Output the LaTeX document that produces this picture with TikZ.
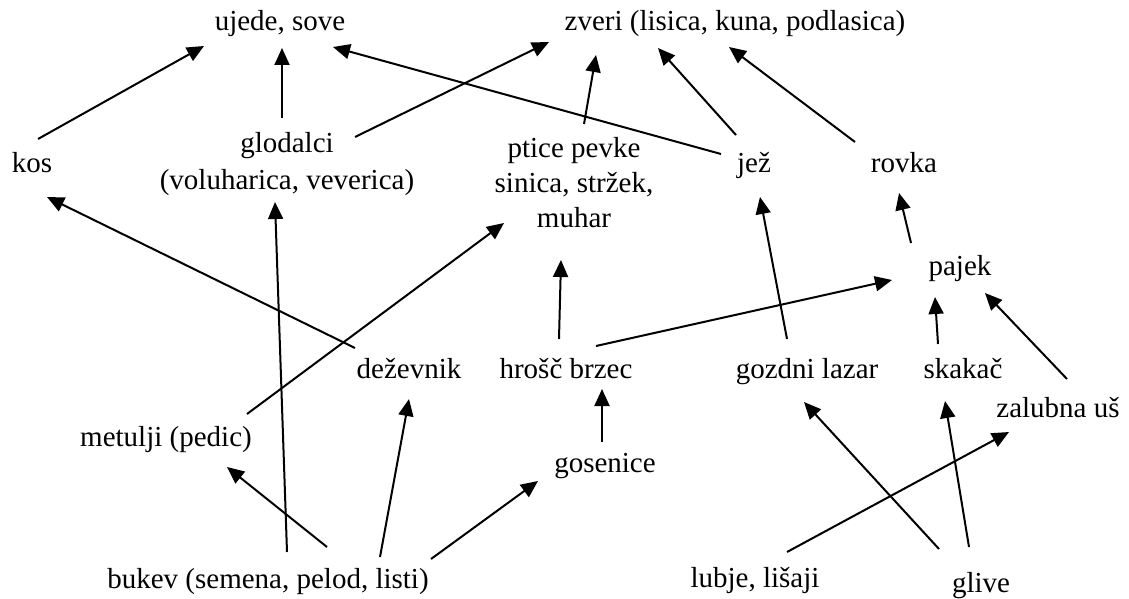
\documentclass[tikz,border=0pt]{standalone}
\usepackage{fontspec}
\setmainfont{Liberation Serif}
\usetikzlibrary{arrows.meta,calc}
\begin{document}
\begin{tikzpicture}[x=0.5pt,y=-0.5pt,
  lbl/.style={inner sep=0pt, font=\fontsize{14.5}{18}\selectfont},
  arr/.style={-{Triangle[length=8.5pt,width=7.5pt]}, line width=1pt}]
\useasboundingbox (0,0) rectangle (1129,599);
% nodes
\node[lbl,anchor=base] (ujede) at (280,31) {ujede, sove};
\node[lbl,anchor=base] (zveri) at (735,31) {zveri (lisica, kuna, podlasica)};
\node[lbl,anchor=base] (kos) at (32,172) {kos};
\node[lbl,align=center,font=\fontsize{14.5}{18.5}\selectfont] (glod) at (287,164.5) {glodalci\\(voluharica, veverica)};
\node[lbl,align=center,font=\fontsize{14.5}{17.5}\selectfont] (ptice) at (574,183) {ptice pevke\\sinica, stržek,\\muhar};
\node[lbl,anchor=base] (jez) at (754,172) {jež};
\node[lbl,anchor=base] (rovka) at (904,172) {rovka};
\node[lbl,anchor=base] (pajek) at (960,275) {pajek};
\node[lbl,anchor=base] (dez) at (409,378) {deževnik};
\node[lbl,anchor=base] (hrosc) at (566,378) {hrošč brzec};
\node[lbl,anchor=base] (gozdni) at (807,378) {gozdni lazar};
\node[lbl,anchor=base] (skakac) at (963,378) {skakač};
\node[lbl,anchor=base] (zalubna) at (1058,417) {zalubna uš};
\node[lbl,anchor=base] (metulji) at (166,446) {metulji (pedic)};
\node[lbl,anchor=base] (gosenice) at (605,472) {gosenice};
\node[lbl,anchor=base] (bukev) at (268,588) {bukev (semena, pelod, listi)};
\node[lbl,anchor=base] (lubje) at (755,587) {lubje, lišaji};
\node[lbl,anchor=base] (glive) at (981,592) {glive};
% connectors
\draw[arr] ($(kos.base)+(6,-33)$) -- ($(ujede.base)+(-76,15)$);
\draw[arr] ($(glod)+(-5,-46.5)$) -- ($(ujede.base)+(2,17)$);
\draw[arr] ($(glod)+(68,-27.5)$) -- ($(zveri.base)+(-186,11)$);
\draw[arr] ($(jez.base)+(-33,-18)$) -- ($(ujede.base)+(53,16)$);
\draw[arr] ($(ptice)+(10,-59)$) -- ($(zveri.base)+(-139,24)$);
\draw[arr] ($(jez.base)+(-18,-37)$) -- ($(zveri.base)+(-77,17)$);
\draw[arr] ($(rovka.base)+(-49,-30)$) -- ($(zveri.base)+(-6,16)$);
\draw[arr] ($(dez.base)+(-54,-30)$) -- ($(kos.base)+(15,25)$);
\draw[arr] ($(bukev.base)+(19,-36)$) -- ($(glod)+(-12,37.5)$);
\draw[arr] ($(metulji.base)+(81,-32)$) -- ($(ptice)+(-70,40)$);
\draw[arr] ($(hrosc.base)+(-7,-39)$) -- ($(ptice)+(-13,77)$);
\draw[arr] ($(hrosc.base)+(30,-32)$) -- ($(pajek.base)+(-68,5)$);
\draw[arr] ($(gozdni.base)+(-20,-39)$) -- ($(jez.base)+(6,25)$);
\draw[arr] ($(pajek.base)+(-49,-32)$) -- ($(rovka.base)+(-5,21)$);
\draw[arr] ($(skakac.base)+(-25,-34)$) -- ($(pajek.base)+(-25,22)$);
\draw[arr] ($(zalubna.base)+(9,-38)$) -- ($(pajek.base)+(25,18)$);
\draw[arr] ($(bukev.base)+(59,-41)$) -- ($(metulji.base)+(61,21)$);
\draw[arr] ($(bukev.base)+(112,-31)$) -- ($(dez.base)+(0,21)$);
\draw[arr] ($(bukev.base)+(163,-29)$) -- ($(gosenice.base)+(-67,9)$);
\draw[arr] ($(gosenice.base)+(-3,-30)$) -- ($(hrosc.base)+(36,11)$);
\draw[arr] ($(lubje.base)+(32,-35)$) -- ($(zalubna.base)+(-49,15)$);
\draw[arr] ($(glive.base)+(-42,-43)$) -- ($(gozdni.base)+(-3,24)$);
\draw[arr] ($(glive.base)+(-12,-45)$) -- ($(skakac.base)+(-18,23)$);
\end{tikzpicture}
\end{document}
